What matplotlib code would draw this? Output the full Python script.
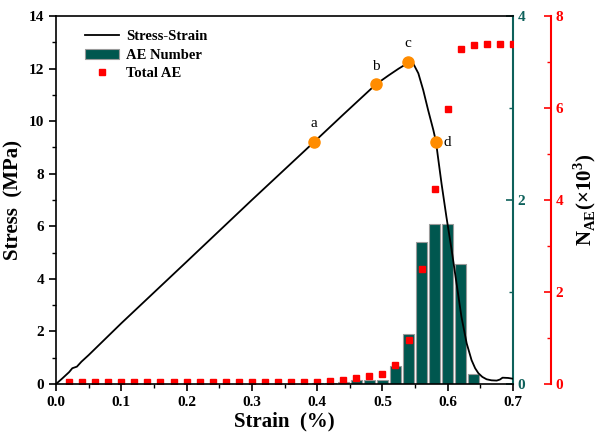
import matplotlib
matplotlib.use("Agg")
import matplotlib.pyplot as plt
from matplotlib.ticker import MultipleLocator

plt.rcParams['font.family'] = ['Liberation Serif', 'DejaVu Serif']
plt.rcParams['mathtext.fontset'] = 'custom'
plt.rcParams['mathtext.rm'] = 'Liberation Serif:bold'
plt.rcParams['mathtext.bf'] = 'Liberation Serif:bold'

# Stress-strain curve (strain %, stress MPa)
strain = [0.0, 0.01, 0.02, 0.025, 0.032, 0.039, 0.05, 0.1, 0.2, 0.3, 0.395, 0.44, 0.49,
          0.51, 0.525, 0.535, 0.541, 0.547, 0.555, 0.5625, 0.570, 0.578, 0.582, 0.585,
          0.5905, 0.598, 0.606, 0.6135, 0.621, 0.629, 0.6365, 0.642, 0.647, 0.653,
          0.6595, 0.667, 0.675, 0.680, 0.684, 0.6925, 0.70]
stress = [0.0, 0.22, 0.45, 0.6, 0.66, 0.85, 1.1, 2.31, 4.65, 7.0, 9.2, 10.25, 11.4,
          11.75, 12.0, 12.15, 12.26, 12.2, 11.82, 11.18, 10.42, 9.66, 9.22, 8.65,
          7.63, 6.36, 5.1, 3.83, 2.56, 1.55, 0.91, 0.6, 0.41, 0.27,
          0.18, 0.14, 0.13, 0.17, 0.24, 0.23, 0.2]

# Marked points
pt_labels = ['a', 'b', 'c', 'd']
pt_strain = [0.395, 0.49, 0.539, 0.582]
pt_stress = [9.2, 11.4, 12.25, 9.2]

# AE number bars (teal axis, 0-4)
bar_strain = [0.40, 0.42, 0.44, 0.46, 0.48, 0.50, 0.52, 0.54, 0.56, 0.58, 0.60, 0.62, 0.64]
bar_count = [0.01, 0.015, 0.02, 0.045, 0.04, 0.047, 0.2, 0.54, 1.54, 1.74, 1.74, 1.30, 0.105]

# Total AE (red axis, x10^3)
tot_strain = [0.02, 0.04, 0.06, 0.08, 0.10, 0.12, 0.14, 0.16, 0.18, 0.20, 0.22, 0.24,
              0.26, 0.28, 0.30, 0.32, 0.34, 0.36, 0.38, 0.40, 0.42, 0.44, 0.46, 0.48,
              0.50, 0.52, 0.54, 0.56, 0.58, 0.60, 0.62, 0.64, 0.66, 0.68, 0.70]
tot_ae = [0.04, 0.04, 0.04, 0.04, 0.04, 0.04, 0.04, 0.04, 0.04, 0.04, 0.04, 0.04,
          0.04, 0.04, 0.04, 0.04, 0.04, 0.04, 0.04, 0.04, 0.06, 0.08, 0.12, 0.17,
          0.22, 0.41, 0.95, 2.49, 4.23, 5.97, 7.28, 7.38, 7.39, 7.39, 7.39]

teal = '#00574F'
teal_ax = '#0E615B'
red = '#FF0000'
orange = '#FF8C00'

fig = plt.figure(figsize=(6.0, 4.45), dpi=100)
ax = fig.add_axes([56/600, 61/445, 457/600, 368/445])
ax2 = ax.twinx()
ax3 = ax.twinx()
ax.set_zorder(3)
ax.patch.set_visible(False)
ax2.set_zorder(1)
ax3.set_zorder(2)

# bars
b = ax2.bar(bar_strain, bar_count, width=0.017, color=teal, edgecolor='#9A9A9A',
            linewidth=0.8, label='AE Number')
ax2.set_ylim(0, 4)
# total AE
s, = ax3.plot(tot_strain, tot_ae, linestyle='none', marker='s', markersize=5,
              color=red, label='Total AE')
ax3.set_ylim(0, 8)

# stress-strain
l, = ax.plot(strain, stress, color='black', linewidth=1.3, label='Stress-Strain')
ax.plot(pt_strain, pt_stress, linestyle='none', marker='o', markersize=8,
        color=orange, zorder=5)
offsets = [(0, 0.45), (0, 0.45), (0, 0.45), (0.012, 0.0)]
for lab, x, y, (dx, dy) in zip(pt_labels, pt_strain, pt_stress, offsets):
    ax.text(x + dx, y + dy, lab, fontsize=11, ha='center' if dx == 0 else 'left',
            va='bottom' if dy else 'center')

ax.set_xlim(0, 0.7)
ax.set_ylim(0, 14)
ax.xaxis.set_major_locator(MultipleLocator(0.1))
ax.xaxis.set_minor_locator(MultipleLocator(0.05))
ax.yaxis.set_major_locator(MultipleLocator(2))
ax.yaxis.set_minor_locator(MultipleLocator(1))
ax.tick_params(axis='both', which='major', direction='out', length=5, width=1.2,
               labelsize=11)
ax.tick_params(axis='both', which='minor', direction='out', length=3, width=1.0)
ax.tick_params(axis='y', right=False, which='both')
ax.set_xticks([0, 0.1, 0.2, 0.3, 0.4, 0.5, 0.6, 0.7])
ax.set_xticklabels(['0.0', '0.1', '0.2', '0.3', '0.4', '0.5', '0.6', '0.7'])
for t in ax.get_xticklabels() + ax.get_yticklabels():
    t.set_fontweight('bold')
for sp in ['left', 'bottom', 'top']:
    ax.spines[sp].set_linewidth(1.2)
ax.spines['right'].set_visible(False)
ax.set_xlabel('Strain  (%)', fontsize=15, fontweight='bold', labelpad=2)
ax.set_ylabel('Stress  (MPa)', fontsize=15, fontweight='bold', labelpad=4)

# teal axis
for sp in ['left', 'top', 'bottom']:
    ax2.spines[sp].set_visible(False)
ax2.spines['right'].set_color(teal_ax)
ax2.spines['right'].set_linewidth(1.5)
ax2.yaxis.set_major_locator(MultipleLocator(2))
ax2.yaxis.set_minor_locator(MultipleLocator(1))
ax2.tick_params(axis='y', which='major', direction='in', length=5, width=1.2,
                colors=teal_ax, labelsize=11)
ax2.tick_params(axis='y', which='minor', direction='in', length=3, width=1.0,
                colors=teal_ax)
for t in ax2.get_yticklabels():
    t.set_fontweight('bold')

# red axis
for sp in ['left', 'top', 'bottom']:
    ax3.spines[sp].set_visible(False)
ax3.spines['right'].set_position(('outward', 27))
ax3.spines['right'].set_color(red)
ax3.spines['right'].set_linewidth(1.5)
ax3.yaxis.set_major_locator(MultipleLocator(2))
ax3.yaxis.set_minor_locator(MultipleLocator(1))
ax3.tick_params(axis='y', which='major', direction='in', length=5, width=1.2,
                colors=red, labelsize=11)
ax3.tick_params(axis='y', which='minor', direction='in', length=3, width=1.0,
                colors=red)
for t in ax3.get_yticklabels():
    t.set_fontweight('bold')
ax3.set_ylabel(r'N$_{\mathregular{AE}}$(×10$^{\mathregular{3}}$)', fontsize=15,
               fontweight='bold', color='black', labelpad=6)

leg = ax.legend([l, b, s], ['Stress-Strain', 'AE Number', 'Total AE'],
                loc='upper left', bbox_to_anchor=(0.045, 0.985), frameon=False,
                prop={'weight': 'bold', 'size': 10.5}, handlelength=2.3,
                handletextpad=0.5, labelspacing=0.35, borderaxespad=0.2)

fig.savefig('out.png', dpi=100)
